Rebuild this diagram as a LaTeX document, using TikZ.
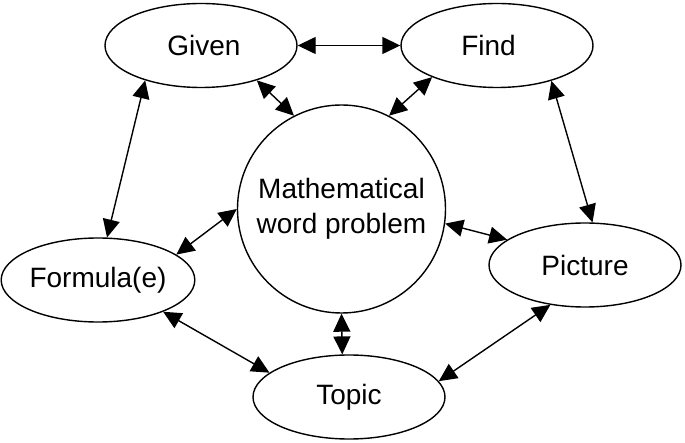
\documentclass[tikz,border=0pt]{standalone}
\usepackage{fontspec}
\setmainfont{Liberation Sans}
\usetikzlibrary{arrows.meta,shapes.geometric}
\begin{document}
\begin{tikzpicture}[x=1pt,y=-1pt,
  every node/.style={font=\fontsize{28}{35}\selectfont},
  oval/.style={draw,line width=1.4pt,ellipse,minimum width=192pt,minimum height=84pt,inner sep=0pt},
  hub/.style={draw,line width=1.4pt,circle,minimum size=208pt,inner sep=0pt,align=center},
  link/.style={line width=1.4pt,{Triangle[length=18pt,width=17pt]}-{Triangle[length=18pt,width=17pt]}}]
\useasboundingbox (0,0) rectangle (685,443);
\node[oval] (given) at (201,45.5) {\kern6pt Given};
\node[oval] (find) at (497,45.5) {Find\kern17pt};
\node[hub] (wp) at (341.5,209) {Mathematical\\word problem};
\node[oval] (formula) at (98,280) {Formula(e)};
\node[oval] (picture) at (585,265) {Picture};
\node[oval] (topic) at (349,397) {Topic};
\draw[link] (given.east) -- (find.west);
\draw[link] (given.328) -- (wp.117);
\draw[link] (find.206) -- (wp.63);
\draw[link] (given.212.5) -- (formula.78);
\draw[link] (find.327.5) -- (picture.80.5);
\draw[link] (formula.18) -- (wp.180);
\draw[link] (wp.352) -- (picture.162);
\draw[link] (wp.270) -- (topic.99.5);
\draw[link] (formula.334.5) -- (topic.163);
\draw[link] (picture.229) -- (topic.10.6);
\end{tikzpicture}
\end{document}
